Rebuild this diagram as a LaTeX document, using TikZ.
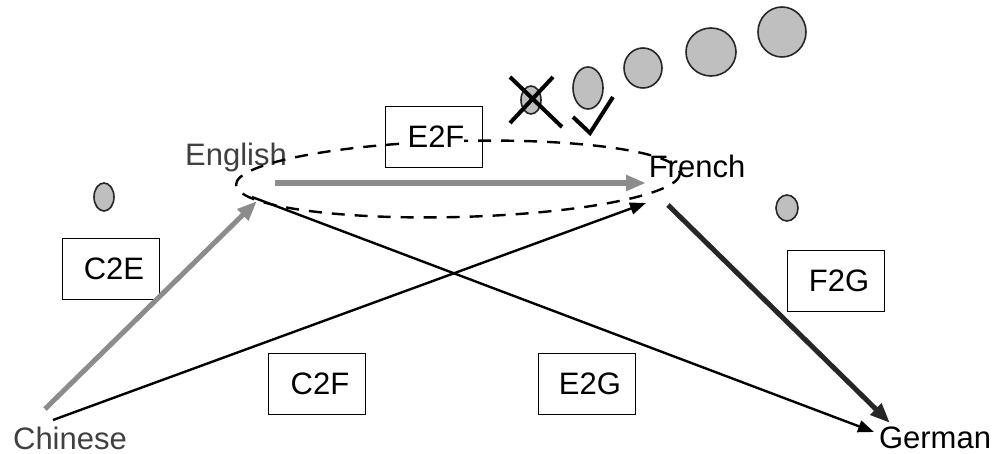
\documentclass[tikz,border=0pt]{standalone}
\usepackage{fontspec}
\setmainfont{Liberation Sans}
\usetikzlibrary{arrows.meta}
\begin{document}
\begin{tikzpicture}[x=1pt,y=-1pt,
  lang/.style={inner sep=0pt,font=\fontsize{31}{31}\selectfont},
  pairbox/.style={draw,line width=1.6pt,minimum width=97pt,minimum height=61pt,
    inner sep=0pt,font=\fontsize{31}{31}\selectfont},
  dot/.style={draw=black!85,line width=1.6pt,fill=black!25},
  thin/.style={line width=2.4pt,-{Triangle[length=16pt,width=12pt]}},
  thick/.style={line width=5pt,-{Triangle[length=20pt,width=15pt]}}]
\useasboundingbox (0,0) rectangle (998,454);

% language labels
\node[lang,text=black!75] (zh) at (70,438) {Chinese};
\node[lang,text=black!75] (en) at (236,157) {English};
\node[lang] (fr) at (697,166) {French};
\node[lang] (de) at (935,438) {German};

% arrow end points
\coordinate (zh1) at (45,409);
\coordinate (zh2) at (53,420);
\coordinate (en1) at (257,201);
\coordinate (en2) at (275,183);
\coordinate (en3) at (252,197);
\coordinate (fr1) at (646,183);
\coordinate (fr2) at (646,203);
\coordinate (fr3) at (668,205);
\coordinate (de1) at (874,432);
\coordinate (de2) at (890,423);

% dashed ellipse around English and French
\draw[line width=2.4pt,dash pattern=on 13pt off 10pt,rotate around={1.5:(458,179)}]
  (458,179) ellipse [x radius=222, y radius=38];

% pair boxes
\node[pairbox] (e2f) at (434,137) {};
\node[inner sep=0pt,fill=white,font=\fontsize{31}{31}\selectfont] (e2ft) at (436,137) {E2F};
\node[pairbox] (c2e) at (111,269) {\hspace*{6pt}C2E};
\node[pairbox] (c2f) at (317,384) {\hspace*{6pt}C2F};
\node[pairbox] (e2g) at (587,384) {\hspace*{6pt}E2G};
\node[pairbox] (f2g) at (836,281) {\hspace*{6pt}F2G};

% translation arrows
\draw[thin] (zh2) -- (fr2);
\draw[thin] (en3) -- (de1);
\draw[thick,black!45] (zh1) -- (en1);
\draw[thick,line width=6pt,black!45] (en2) -- (fr1);
\draw[thick,black!85] (fr3) -- (de2);

% candidate dots
\draw[dot] (104,197) ellipse [x radius=10, y radius=14];
\draw[dot] (787,208) ellipse [x radius=11, y radius=13];
\draw[dot] (531,100) ellipse [x radius=10, y radius=14];
\draw[dot] (588,88) ellipse [x radius=15, y radius=21];
\draw[dot] (643,68) ellipse [x radius=19, y radius=20];
\draw[dot] (711,52) ellipse [x radius=25, y radius=24];
\draw[dot] (782,32) ellipse [x radius=24, y radius=25];

% rejected and accepted marks
\coordinate (xa) at (510,77);
\coordinate (xb) at (562,127);
\coordinate (xc) at (553,77);
\coordinate (xd) at (510,123);
\draw[line width=4pt] (xa) -- (xb);
\draw[line width=4pt] (xc) -- (xd);
\coordinate (ca) at (573,117);
\coordinate (cb) at (590,133);
\coordinate (cc) at (613,97);
\draw[line width=4pt] (ca) -- (cb) -- (cc);
\end{tikzpicture}
\end{document}
